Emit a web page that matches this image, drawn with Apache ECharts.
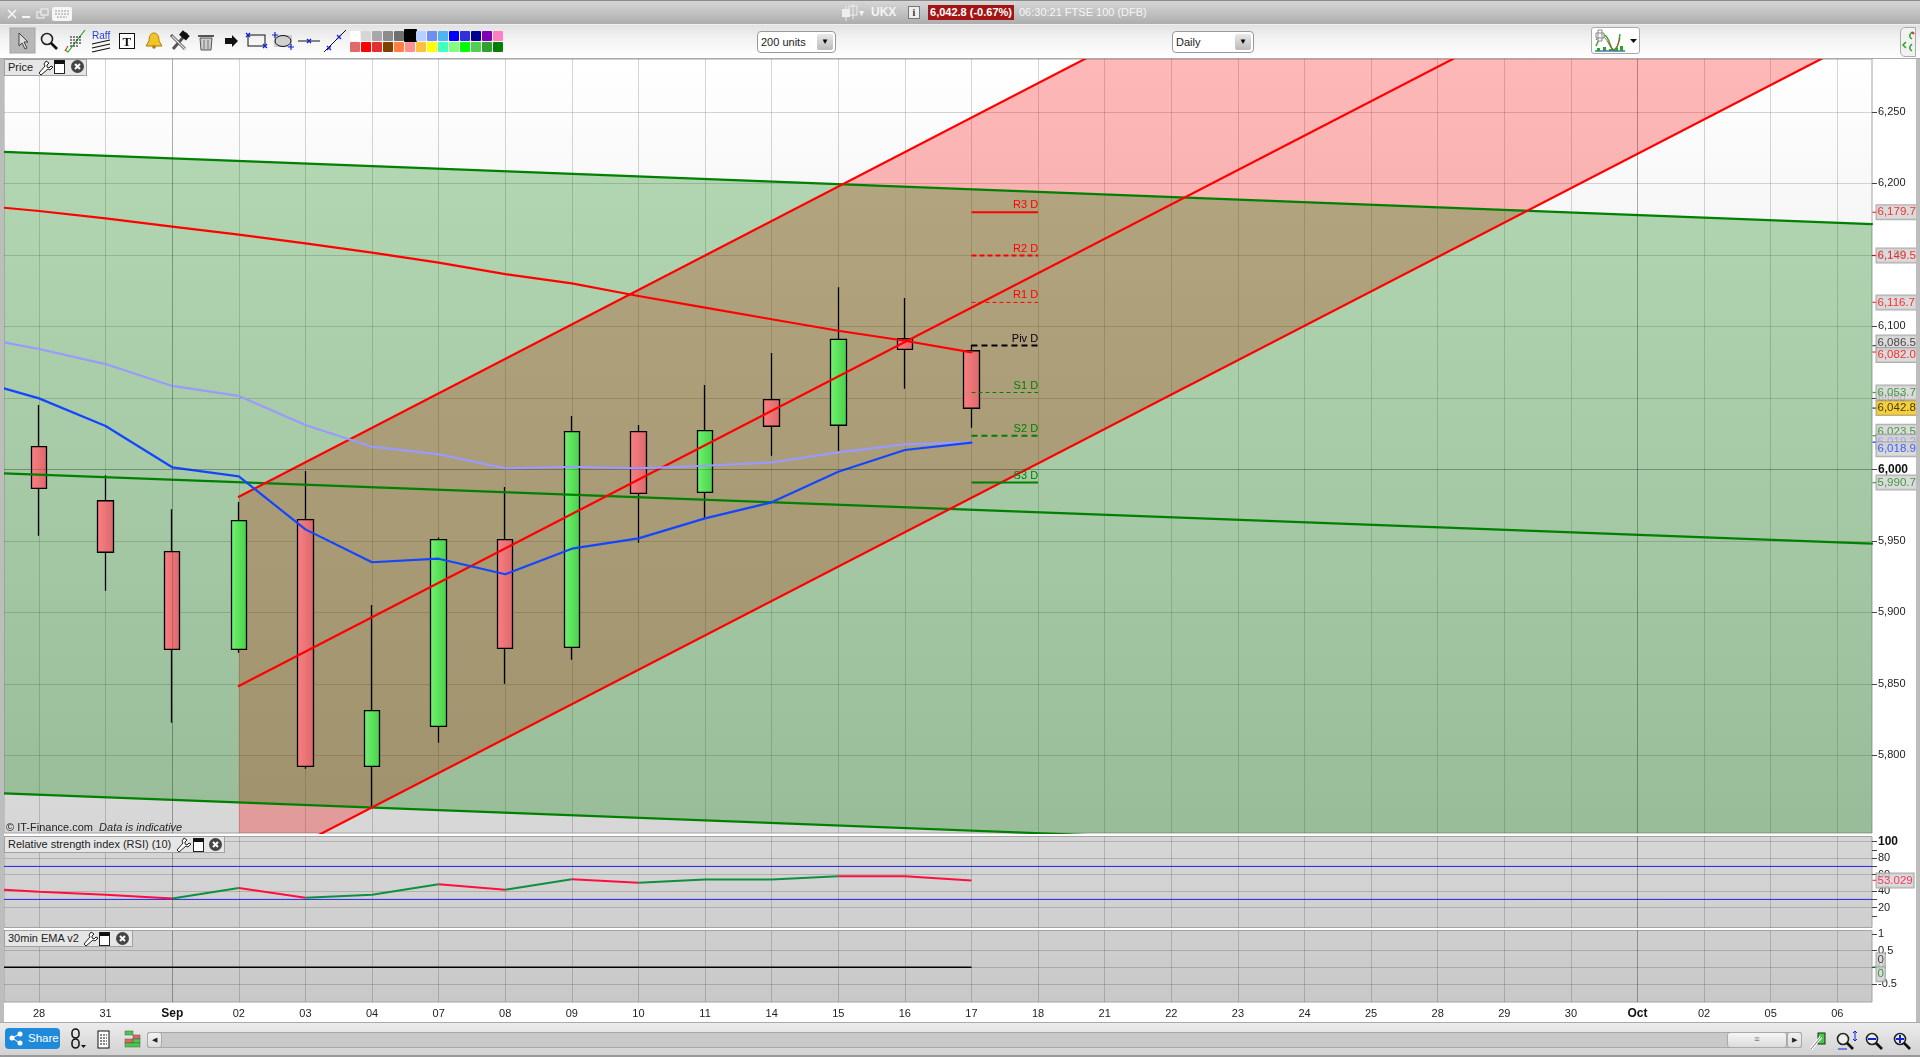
<!DOCTYPE html>
<html><head><meta charset="utf-8"><title>UKX FTSE 100 Daily</title>
<script src="https://cdn.jsdelivr.net/npm/echarts@6/dist/echarts.min.js"></script>
<style>
html,body{margin:0;padding:0;width:1920px;height:1057px;overflow:hidden;background:#fff;font-family:"Liberation Sans",Arial,sans-serif;font-size:11px;color:#222}
#chart{position:absolute;left:0;top:0;width:1920px;height:1057px}
.a{position:absolute;box-sizing:border-box}
#titlebar{left:0;top:0;width:1920px;height:25px;background:linear-gradient(#d6d6d6,#adadad);border-top:1px solid #8a8a8a;border-bottom:1px solid #efefef}
#toolbar{left:0;top:25px;width:1920px;height:34px;background:linear-gradient(#e2e2e2,#f2f2f2 40%,#fff);border-bottom:1px solid #aaa}
#leftedge{left:0;top:0;width:4px;height:1057px;background:#bdbdbd}
#rightedge{left:1916px;top:0;width:4px;height:1057px;background:#bdbdbd}
#bottombar{left:0;top:1022px;width:1920px;height:35px;background:linear-gradient(#ececec,#d2d2d2);border-top:1px solid #aaa;border-bottom:2px solid #999}
.sel{height:22px;background:#fff;border:1px solid #999;border-radius:4px;font-size:11px;line-height:20px;padding-left:3px}
.sel i{position:absolute;right:2px;top:2px;width:16px;height:16px;background:linear-gradient(#e8e8e8,#bbb);border-radius:2px;font-style:normal;text-align:center;font-size:8px;line-height:16px;color:#000}
.lg{background:#e6e6e6;border:1px solid #a0a0a0;height:17px;font-size:11px;line-height:15px;padding-left:3px;white-space:nowrap}
.sw{width:10px;height:10px;border-radius:1px}
</style></head><body>
<div id="chart"></div>
<div class="a" id="leftedge"></div><div class="a" id="rightedge"></div>
<div class="a" id="titlebar"></div>
<div class="a" id="toolbar"></div>
<div class="a" id="bottombar"></div>
<div class="a" id="swatches"></div>

<div class="a" style="left:871px;top:5px;color:#f4f4f4;font-size:12px;font-weight:bold;line-height:15px">UKX</div>
<div class="a" style="left:859px;top:6px;color:#f4f4f4;font-size:10px;line-height:14px">▾</div>
<div class="a" style="left:908px;top:6px;width:12px;height:13px;background:#eee;border:1px solid #777;font:bold 10px/11px 'Liberation Serif',serif;text-align:center;color:#333">i</div>
<div class="a" style="left:928px;top:5px;width:86px;height:15px;background:#a51414;color:#fff;font-weight:bold;font-size:11px;line-height:15px;text-align:center;white-space:nowrap">6,042.8 (-0.67%)</div>
<div class="a" style="left:1019px;top:5px;color:#f6f6f6;font-size:11px;line-height:15px;white-space:nowrap">06:30:21 FTSE 100 (DFB)</div>

<div class="a sel" style="left:757px;top:31px;width:79px">200 units<i>▼</i></div>
<div class="a sel" style="left:1172px;top:31px;width:82px">Daily<i>▼</i></div>
<div class="a" style="left:1591px;top:27px;width:49px;height:27px;background:#fff;border:1px solid #aaa;border-radius:3px"></div>
<div class="a" style="left:1900px;top:27px;width:16px;height:30px;background:#f2f2f2;border:1px solid #aaa;border-radius:5px 0 0 5px"></div>

<div class="a lg" style="left:4px;top:59px;width:83px">Price</div>
<div class="a lg" style="left:4px;top:836px;width:221px">Relative strength index (RSI) (10)</div>
<div class="a lg" style="left:4px;top:930px;width:129px">30min EMA v2</div>
<div class="a" style="left:6px;top:820px;font-size:11px;line-height:14px;white-space:nowrap">© IT-Finance.com&nbsp; <em>Data is indicative</em></div>

<div class="a" style="left:5px;top:1028px;width:55px;height:21px;background:#1f8ad9;border-radius:4px;color:#fff;font-size:11.5px;line-height:21px;padding-left:23px">Share</div>
<div class="a" style="left:147px;top:1032px;width:1655px;height:16px;background:#c9c9c9;border:1px solid #a8a8a8;border-radius:2px"></div>
<div class="a" style="left:147px;top:1032px;width:15px;height:16px;background:linear-gradient(#f2f2f2,#ddd);border:1px solid #aaa;border-radius:3px;font-size:7px;line-height:14px;text-align:center">◀</div>
<div class="a" style="left:1727px;top:1032px;width:60px;height:16px;background:linear-gradient(#f6f6f6,#dcdcdc);border:1px solid #aaa;border-radius:3px;font-size:9px;line-height:13px;text-align:center;color:#777">≡</div>
<div class="a" style="left:1787px;top:1032px;width:15px;height:16px;background:linear-gradient(#f2f2f2,#ddd);border:1px solid #aaa;border-radius:3px;font-size:7px;line-height:14px;text-align:center">▶</div>

<svg class="a" style="left:0;top:0;pointer-events:none" width="1920" height="1057" xmlns="http://www.w3.org/2000/svg">
 <defs>
  <g id="tools"><path d="M9 1l-2 3 1 2-6 7 2 2 7-6 2 1 3-3-2-1-2 2-2-1 0-2 2-2z" fill="#fff" stroke="#222" stroke-width="1"/></g>
  <g id="win"><rect x="0.5" y="0.5" width="10" height="13" fill="#fff" stroke="#222"/><rect x="0.5" y="0.5" width="10" height="3.5" fill="#111"/></g>
  <g id="cls"><circle cx="6.5" cy="6.5" r="6.5" fill="#444"/><path d="M4 4l5 5M9 4l-5 5" stroke="#fff" stroke-width="2"/></g>
  <g id="mag"><circle cx="7" cy="7" r="5.5" fill="#eee" stroke="#222" stroke-width="1.6"/><path d="M11 11l6 6" stroke="#111" stroke-width="2.6"/></g>
 </defs>
 <!-- window controls -->
 <path d="M8 10l8 8M16 10l-8 8" stroke="#f5f5f5" stroke-width="1.6"/>
 <path d="M22 17h8" stroke="#f5f5f5" stroke-width="2"/>
 <rect x="37" y="12" width="7" height="6" fill="none" stroke="#f5f5f5"/><rect x="41" y="9" width="7" height="6" fill="#c0c0c0" stroke="#f5f5f5"/>
 <rect x="52" y="7" width="20" height="14" rx="2" fill="#f5f5f5"/><path d="M55 11h14M55 14h14M57 17h10" stroke="#999" stroke-dasharray="2 1"/>
 <!-- candle icon in the title -->
 <path d="M846 6v15M853 4v15" stroke="#eee"/><rect x="842" y="9" width="8" height="8" fill="#eee"/><rect x="849" y="6" width="8" height="9" fill="none" stroke="#eee"/>
 <!-- toolbar -->
 <rect x="10" y="28" width="25" height="25" fill="#b7b7b7" stroke="#a5a5a5"/>
 <path d="M19 33v13l3-3 3 6 2-1-3-6h4z" fill="#ddd" stroke="#444"/>
 <use href="#mag" x="40" y="32"/>
 <path d="M65 50l3 2 17-22" fill="none" stroke="#2a2" stroke-width="1.2"/><path d="M65 51l3-5" stroke="#e33" stroke-width="1.2"/>
 <path d="M70 37h12M70 40h12M70 43h12M70 46h8" stroke="#111" stroke-dasharray="2 1"/>
 <text x="92" y="39" font-size="10" fill="#2340e0" font-family="Liberation Sans">Raff</text>
 <path d="M92 44l18-4M92 48l18-4M92 52l18-4" stroke="#111" stroke-width="1.2"/>
 <rect x="119.5" y="33.5" width="15" height="15" fill="#fff" stroke="#111"/>
 <text x="122.500" y="46" font-size="13" font-weight="bold" fill="#111" font-family="Liberation Serif">T</text>
 <path d="M154 33c-4 0-5 4-5 8l-3 5h16l-3-5c0-4-1-8-5-8z" fill="#f2c526" stroke="#a87f10"/><circle cx="154" cy="47" r="1.800" fill="#a87f10"/>
 <path d="M171 35l14 14M187 33l-14 16" stroke="#555" stroke-width="3"/><path d="M172 36l14 14" stroke="#ddd" stroke-width="1.400"/><rect x="180" y="32" width="9" height="6" fill="#111" transform="rotate(40 184 35)"/>
 <path d="M200 38h12l-1 12h-10z" fill="#ccc" stroke="#555"/><path d="M198 36h16" stroke="#555" stroke-width="2"/><path d="M204 40v9M208 40v9" stroke="#777"/>
 <path d="M225 38h7v-3l6 6-6 6v-3h-7z" fill="#111"/>
 <rect x="248" y="35" width="17" height="11" fill="none" stroke="#111"/><path d="M246 33l4 4M250 33l-4 4M263 44l4 4M267 44l-4 4" stroke="#12d" stroke-width="1.300"/>
 <rect x="274" y="35" width="18" height="12" fill="#d0d0d0"/><ellipse cx="283" cy="41" rx="8" ry="5.500" fill="none" stroke="#111"/><path d="M275 32v6M272 35h6M291 44v6M288 47h6" stroke="#12d" stroke-width="1.200"/>
 <path d="M298 41h22" stroke="#111"/><path d="M307 39l4 4M311 39l-4 4" stroke="#12d" stroke-width="1.300"/>
 <path d="M324 52l22-22" stroke="#111"/><path d="M327 46l4 4M331 46l-4 4M337 35l4 4M341 35l-4 4" stroke="#12d" stroke-width="1.200"/>
 <!-- indicator button icon -->
 <path d="M1596 46c6-14 10-14 14-2s8 6 10-10" fill="none" stroke="#2a2" stroke-width="1.400"/><path d="M1596 40c6-8 10-2 14 6s8 0 10-8" fill="none" stroke="#c33"/>
 <path d="M1595 51h30" stroke="#24c" stroke-width="1.200"/><path d="M1597 48h3v3h-3zM1603 47h3v4h-3zM1609 49h3v2h-3zM1615 48h3v3h-3zM1620 46h3v5h-3z" fill="#2a2"/>
 <path d="M1596 33h8v5h-8zM1598 30h4v11h-4z" fill="#fff" stroke="#888"/><path d="M1630 39h7l-3.500 4z" fill="#111"/>
 <path d="M1906 42l-3 3 3 3M1912 32c-3 3-3 5 0 7M1912 44c-3 3-3 5 0 7" fill="none" stroke="#2a2" stroke-width="1.500"/><path d="M1912 32l2 2" stroke="#c33" stroke-width="2"/>
 <!-- legend icons -->
 <use href="#tools" x="37" y="60"/><use href="#win" x="54" y="60"/><use href="#cls" x="71" y="60"/>
 <use href="#tools" x="175" y="837"/><use href="#win" x="193" y="838"/><use href="#cls" x="209" y="838"/>
 <use href="#tools" x="82" y="931"/><use href="#win" x="99" y="932"/><use href="#cls" x="116" y="932"/>
 <!-- bottom bar icons -->
 <circle cx="12" cy="1038" r="2.500" fill="#fff"/><circle cx="20" cy="1034" r="2.500" fill="#fff"/><circle cx="20" cy="1043" r="2.500" fill="#fff"/><path d="M12 1038l8-4M12 1038l8 5" stroke="#fff"/>
 <rect x="72" y="1029" width="7" height="9" rx="3.500" fill="none" stroke="#111" stroke-width="1.500"/><rect x="72" y="1039" width="7" height="9" rx="3.500" fill="none" stroke="#111" stroke-width="1.500"/><path d="M81 1045h5l-2.500 3z" fill="#111"/>
 <rect x="98" y="1031" width="11" height="17" fill="#fff" stroke="#111"/><path d="M100 1035h7M100 1038h7M100 1041h7M100 1044h7" stroke="#111" stroke-dasharray="2 1"/>
 <g stroke="#555" stroke-width=".5"><rect x="125" y="1031" width="8" height="4" fill="#4c4"/><rect x="133" y="1035" width="7" height="4" fill="#d66"/><rect x="125" y="1039" width="8" height="4" fill="#d66"/><rect x="133" y="1039" width="7" height="4" fill="#4c4"/><rect x="125" y="1043" width="15" height="4" fill="#4c4"/></g>
 <rect x="1818" y="1033" width="7" height="11" fill="#4c4" stroke="#222"/><path d="M1811 1049l10-12" stroke="#fff" stroke-width="3"/><path d="M1811 1049l10-12" stroke="#333" stroke-width=".7"/>
 <use href="#mag" x="1836" y="1032"/><path d="M1855 1031v10M1853 1033l2-2 2 2M1853 1039l2 2 2-2M1838 1049h9" stroke="#12d" fill="none"/>
 <use href="#mag" x="1865" y="1032"/><rect x="1868" y="1038" width="8" height="2" fill="#12d"/>
 <use href="#mag" x="1893" y="1032"/><rect x="1896" y="1038" width="8" height="2" fill="#12d"/><rect x="1899" y="1035" width="2" height="8" fill="#12d"/>
</svg>

<script>
// ---- categories / ticks ----
const dateLabels = ['28','31','Sep','02','03','04','07','08','09','10','11','14','15','16','17','18','21','22','23','24','25','28','29','30','Oct','02','05','06'];
const priceTicks = [5800,5850,5900,5950,6000,6050,6100,6150,6200,6250];
const rsiLabelTicks = [100,80,60,40,20];
const rsiMinorTicks = [90,70,30,10];
const emaLabelTicks = [1,0.5,0,-0.5];
const emaGridTicks = [0.5,0,-0.5];
// ---- candles, one row per session: open, close, low, high ----
const opens  = [6015.8,5978.0,5942.4,5874.1,5964.8,5792.3,5820.3,5950.8,5875.5,6026.3,5983.9,6048.7,6030.8,6091.3,6082.9];
const closes = [5986.7,5942.0,5874.1,5964.1,5792.3,5831.2,5950.8,5874.8,6026.3,5983.2,6027.0,6030.1,6090.9,6083.9,6042.7];
const lows   = [5953.6,5915.1,5822.8,5871.8,5790.6,5764.0,5808.8,5850.1,5866.9,5948.7,5966.2,6009.5,6012.6,6056.4,6029.1];
const highs  = [6045.0,5995.8,5972.0,5977.1,5998.8,5905.1,5952.4,5987.6,6037.3,6031.0,6059.0,6081.3,6127.3,6119.8,6086.9];
// ---- moving averages: value at the left edge, then one per session ----
const redMA   = [6182.9,6180.6,6175.5,6169.7,6164.1,6158.0,6151.5,6144.5,6136.5,6130.0,6121.2,6113.0,6104.9,6096.9,6089.9,6081.8];
const blueMA  = [6056.6,6049.6,6030.3,6001.4,5995.1,5958.0,5935.0,5937.5,5926.6,5944.5,5951.7,5965.7,5976.9,5998.3,6013.5,6018.6];
const paleMA  = [6088.8,6084.1,6073.6,6058.3,6051.3,6031.0,6015.8,6010.5,6000.7,6001.8,6000.7,6002.5,6004.9,6011.9,6017.5,6018.9];
// ---- RSI: value at the left edge, then one per session ----
const rsiValues = [41.8,39.4,35.7,31.2,43.8,32.0,35.7,48.3,41.8,54.4,50.3,54.0,54.2,58.1,58.0,53.0];
const rsiBands = [70,30];
// ---- trend channels: [session index, price] end points ----
const redTop = [[3,5980.8],[30,6631.5]];
const redMid = [[3,5848.5],[30,6497.9]];
const redBot = [[3,5715.5],[30,6364.9]];
const greenTopPrices = [6221.9,6171.5];
const greenMidPrices = [5997.2,5948.0];
const greenBotPrices = [5773.4,5723.1];
// ---- pivots ----
const pivotNames  = ['R3 D','R2 D','R1 D','Piv D','S1 D','S2 D','S3 D'];
const pivotValues = [6179.7,6149.5,6116.7,6086.5,6053.7,6023.5,5990.7];
// ---- right hand value tags ----
const priceTags = [6179.7,6149.5,6116.7,6086.5,6082.0,6053.7,6023.5,6019.2,6018.9,6042.8,5990.7];
const rsiTag = 53.029;
const emaTags = [0,0];

// ---- styles ----
const RED='#ff0000', GREEN='#008000', BLUE='#1446ff', PALE='#9a9aff', BLK='#000';
const xMin=-0.5255, xMax=27.5205, lastSession=14;
const pivotStyle=[
 {c:RED,w:2,t:'solid'},{c:RED,w:2,t:[5,3]},{c:RED,w:1,t:[4,3]},{c:BLK,w:2,t:[6,4]},
 {c:GREEN,w:1,t:[4,3]},{c:GREEN,w:2,t:[6,4]},{c:GREEN,w:2,t:'solid'}];
const tagStyle={6179.7:[RED,0],6149.5:[RED,0],6116.7:[RED,0],6086.5:['#222',-3],6082:[RED,3],6053.7:['#1a8a1a',0],
 6042.8:['#111',0,'#f2c40a'],6023.5:['#1a8a1a',-4],6019.2:[PALE,0],6018.9:[BLUE,7],5990.7:['#1a8a1a',0]};

const gridLine='rgba(0,0,0,0.16)';
const sessions=dateLabels.map((_,i)=>i);
const edgeX=[xMin].concat(Array.from({length:15},(_,i)=>i));
const fmt=v=>Number(v).toLocaleString('en-US',{minimumFractionDigits:0,maximumFractionDigits:1});
const tagLabel=(color,dy,bg)=>({show:true,position:'right',distance:4,offset:[-5,dy],color:color,fontSize:11.5,
  fontFamily:'Liberation Sans',backgroundColor:bg||'#d2d2d2',
  borderColor:'#9a9a9a',borderWidth:1,padding:[1,1,1,1]});
const vgrad=(a,b)=>({type:'linear',x:0,y:0,x2:0,y2:1,colorStops:[{offset:0,color:a},{offset:1,color:b}]});
const hgrad=(a,b)=>({type:'linear',x:0,y:0,x2:1,y2:0,colorStops:[{offset:0,color:a},{offset:1,color:b}]});

function grid(top,height,a,b){return {left:4,right:48,top:top,height:height,show:true,backgroundColor:vgrad(a,b),borderColor:'#a4a4a4',borderWidth:1};}
function xAxis(gridIndex,labels){return {type:'value',gridIndex,min:xMin,max:xMax,position:'bottom',
  axisLine:{show:false,onZero:false},
  axisTick:{show:false,customValues:sessions},
  splitLine:{show:true,lineStyle:{color:gridLine,width:1}},
  axisLabel:{show:labels,customValues:sessions,margin:6,fontSize:11,color:'#222',fontFamily:'Liberation Sans',
    formatter:v=>{const s=dateLabels[v];return /[A-Z]/.test(s)?'{b|'+s+'}':s;},
    rich:{b:{fontWeight:'bold',fontSize:12,color:'#111',fontFamily:'Liberation Sans'}}}};}
function yAxis(gridIndex,min,max,ticks,opts){opts=opts||{};return {type:'value',gridIndex,position:'right',min,max,
  axisLine:{show:false,onZero:false},
  axisTick:{show:true,length:5,customValues:ticks,lineStyle:{color:'#444'}},
  splitLine:{show:!!opts.lines,lineStyle:{color:gridLine,width:1}},
  axisLabel:{show:opts.labels!==false,customValues:ticks,margin:6,fontSize:11,color:'#222',fontFamily:'Liberation Sans',
    formatter:opts.fmt||(v=>String(v)),rich:{b:{fontWeight:'bold',fontSize:12,color:'#111',fontFamily:'Liberation Sans'}}}};}

function polygon(name,pts,fill,z){return {name,type:'custom',xAxisIndex:0,yAxisIndex:0,clip:true,z,silent:true,data:[[pts[0][0],pts[0][1]]],
  renderItem:(p,api)=>({type:'polygon',shape:{points:pts.map(q=>api.coord(q))},style:{fill,stroke:null}})};}
function line(name,data,color,width,z,extra){return Object.assign({name,type:'line',xAxisIndex:0,yAxisIndex:0,data,showSymbol:false,symbol:'none',
  lineStyle:{color,width,cap:'round',join:'round'},z,silent:true,clip:true},extra||{});}
const along=(vals)=>vals.map((v,i)=>[edgeX[i],v]);
const span=(p)=>[[xMin,p[0]],[xMax,p[1]]];

const series=[];
// shaded channels: red sits under green
series.push(polygon('Red channel',[redTop[0],redTop[1],redBot[1],redBot[0]],'rgba(255,0,0,0.28)',1));
series.push(polygon('Green channel',[[xMin,greenTopPrices[0]],[xMax,greenTopPrices[1]],[xMax,greenBotPrices[1]],[xMin,greenBotPrices[0]]],'rgba(0,128,0,0.29)',1));
// month separators and the 6,000 level
[2,24].forEach(i=>[0,1,2].forEach(k=>series.push({type:'line',xAxisIndex:k,yAxisIndex:[0,1,3][k],data:[],z:1,silent:true,
  markLine:{silent:true,symbol:'none',animation:false,label:{show:false},lineStyle:{color:'rgba(0,0,0,0.18)',width:1,type:'solid'},data:[{xAxis:i}]}})));
series.push({type:'line',xAxisIndex:0,yAxisIndex:0,data:[],z:1,silent:true,markLine:{silent:true,symbol:'none',animation:false,label:{show:false},lineStyle:{color:'rgba(0,0,0,0.18)',width:1,type:'solid'},data:[{yAxis:6000}]}});
// candles
series.push({name:'UKX',type:'candlestick',xAxisIndex:0,yAxisIndex:0,z:2,silent:true,barWidth:16,
  data:opens.map((o,i)=>[i,o,closes[i],lows[i],highs[i]]),
  itemStyle:{color:hgrad('#72f272','#48d048'),color0:hgrad('#fb8082','#d9686b'),borderColor:'#000',borderColor0:'#000',borderColorDoji:'#000',borderWidth:1.3}});
// channel lines
series.push(line('Green top',span(greenTopPrices),GREEN,2.2,3));
series.push(line('Green mid',span(greenMidPrices),GREEN,2.2,3));
series.push(line('Green bottom',span(greenBotPrices),GREEN,2.2,3));
series.push(line('Red top',redTop,RED,2.2,3));
series.push(line('Red mid',redMid,RED,2.2,3));
series.push(line('Red bottom',redBot,RED,2.2,3));
// moving averages
series.push(line('Pale MA',along(paleMA),PALE,2.2,3));
series.push(line('Blue MA',along(blueMA),BLUE,2.2,3));
series.push(line('Red MA',along(redMA),RED,2.2,3));
// pivots
pivotValues.forEach((v,i)=>{const s=pivotStyle[i];
  series.push(line(pivotNames[i],[
    {value:[lastSession,v],symbol:'none'},
    {value:[lastSession+1,v],symbol:'circle',symbolSize:1,itemStyle:{color:'rgba(0,0,0,0)'},
     label:{show:true,position:'top',align:'right',distance:0,offset:[0,-1],formatter:pivotNames[i],color:s.c,fontSize:11,fontFamily:'Liberation Sans'}}],s.c,s.w,4,
   {showSymbol:true,symbol:'circle',symbolSize:1,lineStyle:{color:s.c,width:s.w,type:s.t}}));});
// price tags
series.push({name:'Price tags',type:'scatter',xAxisIndex:0,yAxisIndex:0,clip:false,z:6,silent:true,symbol:'rect',symbolSize:[5,1.3],symbolOffset:[3,0],
  data:priceTags.map(v=>{const t=tagStyle[v];return {value:[xMax,v],itemStyle:{color:t[0]},label:Object.assign(tagLabel(t[0],t[1],t[2]),{formatter:()=>v.toLocaleString('en-US',{minimumFractionDigits:1})})};})});

// RSI, coloured by direction of each run
let run=[0];
const rsiPts=along(rsiValues);
for(let i=1;i<rsiPts.length;i++){
  const up=rsiValues[i]>rsiValues[i-1];
  const nextUp=i+1<rsiPts.length?rsiValues[i+1]>rsiValues[i]:null;
  run.push(i);
  if(nextUp!==up){
    series.push({type:'line',xAxisIndex:1,yAxisIndex:1,data:run.map(k=>rsiPts[k]),showSymbol:false,symbol:'none',silent:true,z:4,
      lineStyle:{color:up?'#0f9040':'#ff0f40',width:2}});
    run=[i];
  }
}
rsiBands.forEach(b=>series.push({type:'line',xAxisIndex:1,yAxisIndex:1,data:[[xMin,b],[xMax,b]],showSymbol:false,symbol:'none',silent:true,z:3,lineStyle:{color:'#2222e6',width:1}}));
series.push({type:'scatter',xAxisIndex:1,yAxisIndex:1,clip:false,z:6,silent:true,symbol:'rect',symbolSize:[5,1.3],symbolOffset:[3,0],
  data:[{value:[xMax,rsiTag],itemStyle:{color:'#ff0f40'},label:Object.assign(tagLabel('#ff0f40',0),{formatter:()=>rsiTag.toFixed(3)})}]});

// 30min EMA
series.push({type:'line',xAxisIndex:2,yAxisIndex:3,data:[[xMin,0],[lastSession,0]],showSymbol:false,symbol:'none',silent:true,z:4,lineStyle:{color:'#000',width:1.5}});
series.push({type:'scatter',xAxisIndex:2,yAxisIndex:3,clip:false,z:6,silent:true,symbol:'rect',symbolSize:[5,1],symbolOffset:[3,0],
  data:emaTags.map((v,i)=>({value:[xMax,v],itemStyle:{color:GREEN},label:Object.assign(tagLabel(i?'#1a8a1a':'#222',i?7:-7),{formatter:()=>String(v)})}))});

const chart=echarts.init(document.getElementById('chart'),null,{renderer:'canvas',width:1920,height:1057});
chart.setOption({
  animation:false,backgroundColor:'#fff',textStyle:{fontFamily:'Liberation Sans'},
  grid:[grid(59,774,'#ffffff','#d6d6d6'),grid(836.5,91,'#d6d6d6','#cfcfcf'),grid(930.5,71.5,'#cfcfcf','#c8c8c8')],
  xAxis:[xAxis(0,false),xAxis(1,false),xAxis(2,true)],
  yAxis:[
    yAxis(0,5745.7,6286.9,priceTicks,{lines:true,fmt:v=>v===6000?'{b|6,000}':fmt(v)}),
    yAxis(1,-4.1,106.3,rsiLabelTicks,{lines:true,fmt:v=>v===100?'{b|100}':String(v)}),
    yAxis(1,-4.1,106.3,rsiMinorTicks,{labels:false}),
    yAxis(2,-1.05,1.106,emaLabelTicks,{labels:true}),
    yAxis(2,-1.05,1.106,emaGridTicks,{lines:true,labels:false})
  ],
  series
});
// colour palette
const row1=['#ffffff','#d6d6d6','#a8a8a8','#8c8c8c','#707070','#000000','#b8d0ff','#6f8ff0','#4fb4f0','#0000ff','#3030d8','#000090','#8000b8','#ff80c0'];
const row2=['#e06a6a','#ff0000','#e03030','#804000','#ff8040','#ff9090','#ffc040','#ffff00','#40ffc0','#80ff80','#00ff00','#50d050','#30a030','#008000'];
const sw=document.getElementById('swatches');
[row1,row2].forEach((r,ri)=>r.forEach((c,i)=>{const d=document.createElement('div');d.className='a sw';
  const big=ri===0&&i===5;
  d.style.cssText='left:'+(350+i*11-(big?1:0))+'px;top:'+(31+ri*11-(big?2:0))+'px;background:'+c+';'+(big?'width:13px;height:13px;':'');sw.appendChild(d);}));
</script>
</body></html>
